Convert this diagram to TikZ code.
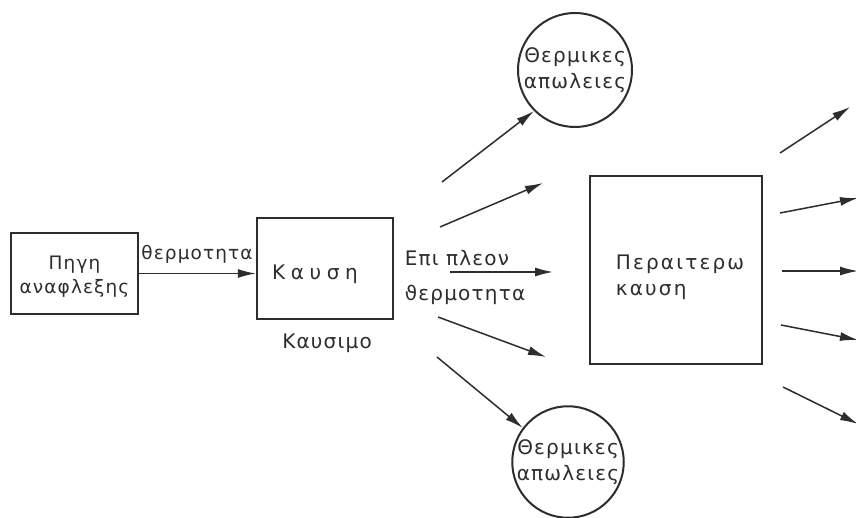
\documentclass[tikz,border=0pt]{standalone}
\usepackage{fontspec}
\setmainfont{DejaVu Sans}[LetterSpace=6]
\newfontfamily\widefont{DejaVu Sans}[LetterSpace=28]
\newfontfamily\midfont{DejaVu Sans}[LetterSpace=11]
\usetikzlibrary{arrows.meta}
\definecolor{ink}{RGB}{45,45,45}
\begin{document}
\begin{tikzpicture}[x=1pt,y=-1pt,
  lbl/.style={font=\fontsize{20}{26}\selectfont, text=ink, inner sep=0pt},
  small/.style={font=\fontsize{18.5}{24}\selectfont, text=ink, inner sep=0pt},
  boxnode/.style={draw=ink, line width=2.4pt, inner sep=0pt},
  loss/.style={circle, draw=ink, line width=2pt, inner sep=0pt, align=center},
  flow/.style={draw=ink, line width=1.5pt, -{Latex[length=18pt,width=9pt]}}]
\useasboundingbox (0,0) rectangle (856,518);
\fill[white] (0,0) rectangle (856,518);

\node[boxnode, minimum width=127pt, minimum height=81pt] (src) at (74.5,273.5) {};
\node[small, align=center] (srctxt) at (74.5,277) {Πηγη\\αναφλεξης};
\node[boxnode, minimum width=136pt, minimum height=101pt] (comb) at (325,268.5) {};
\node[lbl] (combtxt) at (315,274) {\widefont Καυση};
\node[lbl] (fuel) at (327,343) {Καυσιμο};
\node[boxnode, minimum width=172pt, minimum height=188pt] (further) at (676,270) {};
\node[lbl, align=left] (furthertxt) at (680,277) {\midfont Περαιτερω\\\midfont καυση};
\node[loss, lbl, minimum size=114pt] (toploss) at (575,70) {Θερμικες\\απωλειες};
\node[loss, lbl, minimum size=110pt] (botloss) at (568,462) {Θερμικες\\απωλειες};
\node[small] (heat) at (197,254) {θερμοτητα};
\node[lbl, align=left] (extra) at (465,277) {Επι πλεον\\[9pt]ϑερμοτητα};

\coordinate (l1) at (442,182);
\coordinate (l2s) at (440,227); \coordinate (l2e) at (543,183);
\coordinate (l3s) at (450,272); \coordinate (l3e) at (553,272);
\coordinate (l4s) at (438,317); \coordinate (l4e) at (546,357);
\coordinate (l5) at (437,357);
\coordinate (r1s) at (780,153); \coordinate (r1e) at (850,107);
\coordinate (r2s) at (780,213); \coordinate (r2e) at (858,198);
\coordinate (r3s) at (782,271); \coordinate (r3e) at (858,271);
\coordinate (r4s) at (781,325); \coordinate (r4e) at (858,340);
\coordinate (r5s) at (783,387); \coordinate (r5e) at (858,424);

\draw[flow] (src.east) -- (comb.west |- src.east);
\draw[flow] (l1) -- (toploss.south west);
\draw[flow] (l2s) -- (l2e);
\draw[flow] (l3s) -- (l3e);
\draw[flow] (l4s) -- (l4e);
\draw[flow] (l5) -- (botloss.143);
\draw[flow] (r1s) -- (r1e);
\draw[flow] (r2s) -- (r2e);
\draw[flow] (r3s) -- (r3e);
\draw[flow] (r4s) -- (r4e);
\draw[flow] (r5s) -- (r5e);
\end{tikzpicture}
\end{document}
